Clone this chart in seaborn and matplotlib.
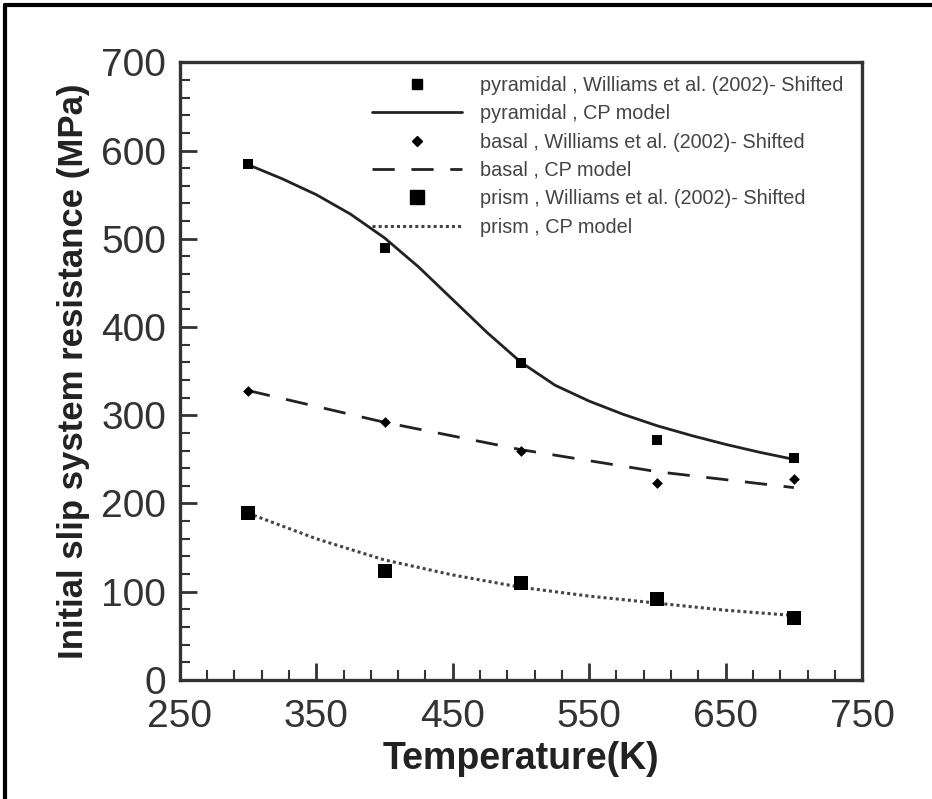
import matplotlib
matplotlib.use("Agg")
import matplotlib.pyplot as plt
from matplotlib.lines import Line2D
import seaborn as sns
import pandas as pd

# measured points (Williams et al. 2002, shifted)
temps = [300, 400, 500, 600, 700]
pyramidal_exp = [585, 490, 359, 272, 252]
basal_exp = [328, 292, 260, 223, 228]
prism_exp = [189, 124, 110, 92, 70]

# CP model curves
pyr_T = [300, 325, 350, 375, 400, 425, 450, 475, 500, 525, 550, 575, 600, 625, 650, 675, 700]
pyr_cp = [584, 568, 550, 528, 501, 468, 431, 394, 360, 334, 316, 301, 288, 277, 267, 258, 250]
basal_T = [300, 400, 500, 600, 700]
basal_cp = [328, 292, 261, 236, 218]
prism_T = [300, 350, 400, 450, 500, 550, 600, 650, 700]
prism_cp = [189, 160, 136, 119, 105, 95, 87, 79, 73]

labels = [
    "pyramidal , Williams et al. (2002)- Shifted",
    "pyramidal , CP model",
    "basal , Williams et al. (2002)- Shifted",
    "basal , CP model",
    "prism , Williams et al. (2002)- Shifted",
    "prism , CP model",
]

sns.set_style("ticks")
plt.rcParams['font.family'] = ['Liberation Sans', 'DejaVu Sans']

ink = "#222222"
fig = plt.figure(figsize=(9.32, 7.99), dpi=100)
ax = fig.add_axes([0.193, 0.149, 0.732, 0.773])

sns.lineplot(x=pyr_T, y=pyr_cp, ax=ax, color=ink, linewidth=2.0, sort=False)
sns.lineplot(x=basal_T, y=basal_cp, ax=ax, color=ink, linewidth=2.0, sort=False)
ax.lines[-1].set_dashes((8, 6))
sns.lineplot(x=prism_T, y=prism_cp, ax=ax, color="#444444", linewidth=2.2, sort=False)
ax.lines[-1].set_linestyle((0, (1, 1)))

sns.scatterplot(x=temps, y=pyramidal_exp, ax=ax, marker="s", s=45, color="black", edgecolor="black", linewidth=0, zorder=5)
sns.scatterplot(x=temps, y=basal_exp, ax=ax, marker="D", s=30, color="black", edgecolor="black", linewidth=0, zorder=5)
sns.scatterplot(x=temps, y=prism_exp, ax=ax, marker="s", s=95, color="black", edgecolor="black", linewidth=0, zorder=5)

ax.set_xlim(250, 750)
ax.set_ylim(0, 700)
ax.set_xticks([250, 350, 450, 550, 650, 750])
ax.set_xticks(range(250, 751, 20), minor=True)
ax.set_yticks(range(0, 701, 100))
ax.set_yticks(range(0, 701, 20), minor=True)
ax.tick_params(which="major", direction="in", length=12, width=2, color="#333333",
               labelsize=28, labelcolor="#333333", pad=10)
ax.tick_params(which="minor", direction="in", length=7, width=1.5, color="#333333")
ax.tick_params(axis="x", pad=14)
for sp in ax.spines.values():
    sp.set_linewidth(2.4)
    sp.set_color("#333333")

ax.set_xlabel("Temperature(K)", fontsize=27, fontweight="bold", color="#222222", labelpad=4)
ax.set_ylabel("Initial slip system resistance (MPa)", fontsize=25, fontweight="bold", color="#222222", labelpad=8)

handles = [
    Line2D([], [], linestyle="none", marker="s", markersize=6.5, color="black"),
    Line2D([], [], color=ink, linewidth=2.0),
    Line2D([], [], linestyle="none", marker="D", markersize=5, color="black"),
    Line2D([], [], color=ink, linewidth=2.0, dashes=(8, 6)),
    Line2D([], [], linestyle="none", marker="s", markersize=9.5, color="black"),
    Line2D([], [], color="#444444", linewidth=2.2, linestyle=(0, (1, 1))),
]
leg = ax.legend(handles, labels, loc="upper right", bbox_to_anchor=(0.972, 0.978),
                frameon=False, fontsize=14.3, handlelength=4.5, handletextpad=0.9,
                labelspacing=0.47, borderpad=0, borderaxespad=0, labelcolor="#444444")

# outer border of the original panel
fig.add_artist(Line2D([5, 932], [794, 794], transform=None, color="black", linewidth=3))
fig.add_artist(Line2D([5, 5], [0, 794], transform=None, color="black", linewidth=3))

fig.savefig("out.png", dpi=100)
